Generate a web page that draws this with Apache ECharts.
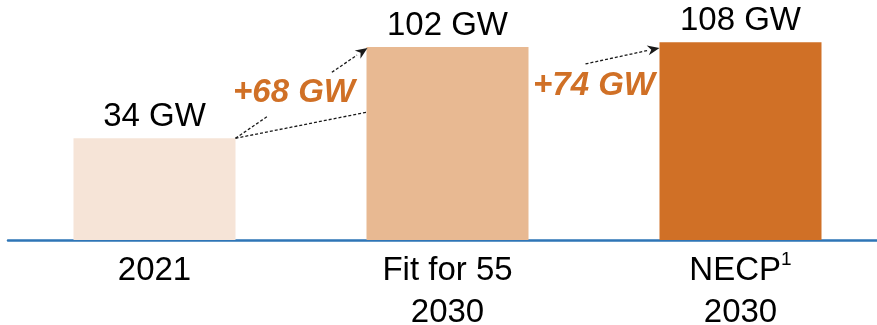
<!DOCTYPE html>
<html>
<head>
<meta charset="utf-8">
<title>Installed capacity</title>
<script src="https://cdn.jsdelivr.net/npm/echarts@6/dist/echarts.min.js"></script>
<style>
  html, body { margin: 0; padding: 0; background: #ffffff; }
  #chart { width: 877px; height: 325px; }
</style>
</head>
<body>
<div id="chart"></div>
<script>
// Capacity (GW): today vs. the two 2030 targets
const categories = ['2021', 'Fit for 55\n2030', 'NECP{sup|1}\n2030'];
const capacity = [34, 102, 108];
const barColors = ['#F6E4D7', '#E8B992', '#D07026'];
const growthLabels = ['+68 GW', '+74 GW'];

const FONT = '"Liberation Sans", Arial, sans-serif';
const BAR_WIDTH = 162;

const chart = echarts.init(document.getElementById('chart'), null, { renderer: 'canvas' });

const option = {
  animation: false,
  backgroundColor: '#ffffff',
  grid: { left: 8, top: 20, width: 879, bottom: 85, containLabel: false, outerBoundsMode: 'none' },
  xAxis: {
    type: 'category',
    data: categories,
    axisLine: { show: true, onZero: false, lineStyle: { color: '#2E75B6', width: 2.5 } },
    axisTick: { show: false },
    axisLabel: {
      interval: 0,
      margin: 10,
      color: '#000000',
      fontFamily: FONT,
      fontSize: 33,
      lineHeight: 42,
      rich: {
        sup: { fontFamily: FONT, fontSize: 19, color: '#000000', verticalAlign: 'top', lineHeight: 42, padding: [0, 0, 12, 0] }
      }
    }
  },
  yAxis: {
    type: 'log',
    logBase: 10,
    min: 10,
    max: 141,
    startValue: 10,
    show: false,
    splitLine: { show: false }
  },
  series: [{
    type: 'bar',
    barWidth: BAR_WIDTH,
    data: capacity.map((v, i) => ({ value: v, itemStyle: { color: barColors[i] } })),
    label: {
      show: true,
      position: 'top',
      distance: 5,
      color: '#000000',
      fontFamily: FONT,
      fontSize: 33,
      formatter: p => p.value + ' GW'
    }
  }]
};

chart.setOption(option);

// Growth annotations: dashed arrows between bar tops, placed from the bars' own pixel positions
function barTop(i) {
  return chart.convertToPixel({ xAxisIndex: 0, yAxisIndex: 0 }, [i, capacity[i]]);
}
const hw = BAR_WIDTH / 2;
const t0 = barTop(0), t1 = barTop(1), t2 = barTop(2);
const dashStyle = { stroke: '#1a1a1a', lineWidth: 1.3, lineDash: [3, 2], fill: null };

function lerp(a, b, t) { return [a[0] + (b[0] - a[0]) * t, a[1] + (b[1] - a[1]) * t]; }
function seg(a, b) {
  return { type: 'line', z: 10, shape: { x1: a[0], y1: a[1], x2: b[0], y2: b[1] }, style: dashStyle };
}
function head(from, tip) {
  const ang = Math.atan2(tip[1] - from[1], tip[0] - from[0]);
  const len = 12, wid = 5;
  const bx = tip[0] - len * Math.cos(ang), by = tip[1] - len * Math.sin(ang);
  const nx = -Math.sin(ang) * wid, ny = Math.cos(ang) * wid;
  const ix = tip[0] - len * 0.7 * Math.cos(ang), iy = tip[1] - len * 0.7 * Math.sin(ang);
  return {
    type: 'polygon', z: 11,
    shape: { points: [tip, [bx + nx, by + ny], [ix, iy], [bx - nx, by - ny]] },
    style: { fill: '#1a1a1a' }
  };
}

// first step: 2021 -> Fit for 55
const a0 = [t0[0] + hw, t0[1]];
const a1 = [t1[0] - hw + 1, t1[1] + 1];
const b1 = [t1[0] - hw, t0[1] - 26];
// second step: towards NECP
const c1 = [t2[0] - hw, t1[1] + 1];
const c0 = [t1[0] + hw + 57, t1[1] + 17];

const elements = [
  seg(a0, lerp(a0, a1, 0.25)),
  seg(lerp(a0, a1, 0.73), lerp(a0, a1, 0.92)),
  head(a0, a1),
  seg(a0, b1),
  seg(c0, lerp(c0, c1, 0.85)),
  head(c0, c1),
  {
    type: 'text', z: 12,
    style: {
      text: growthLabels[0],
      x: (t0[0] + hw + t1[0] - hw) / 2 - 7,
      y: t1[1] + 46,
      align: 'center', verticalAlign: 'middle',
      font: 'italic bold 33px ' + FONT,
      fill: '#D07026'
    }
  },
  {
    type: 'text', z: 12,
    style: {
      text: growthLabels[1],
      x: (t1[0] + hw + t2[0] - hw) / 2,
      y: t1[1] + 39,
      align: 'center', verticalAlign: 'middle',
      font: 'italic bold 33px ' + FONT,
      fill: '#D07026'
    }
  }
];

chart.setOption({ graphic: { elements: elements } });
</script>
</body>
</html>
